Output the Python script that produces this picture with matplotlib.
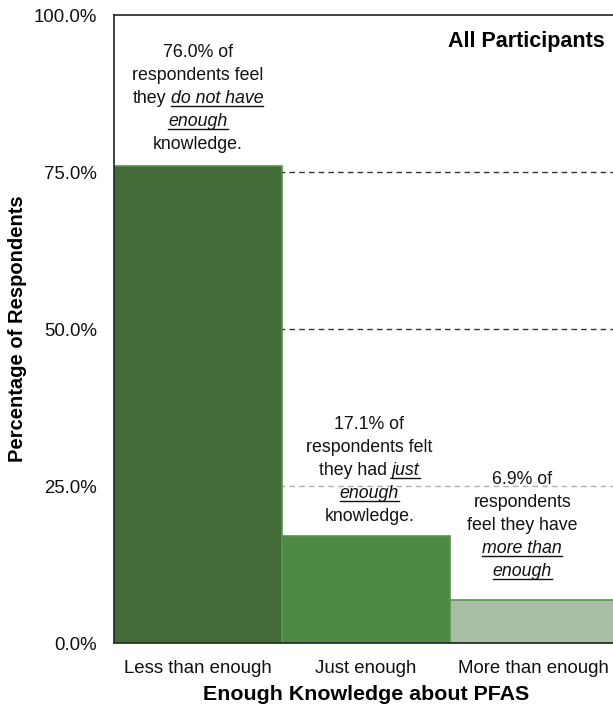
import matplotlib
matplotlib.use("Agg")
import matplotlib.pyplot as plt
from matplotlib.lines import Line2D
from matplotlib.ticker import PercentFormatter

plt.rcParams['font.family'] = ['Liberation Sans', 'DejaVu Sans']

categories = ["Less than enough", "Just enough", "More than enough"]
values = [76.0, 17.1, 6.9]
bar_colors = ["#426b37", "#4e8944", "#aabea6"]
yticks = [0, 25, 50, 75, 100]

# note text per bar: list of lines, each line a list of (text, emphasised)
notes = [
    [[("76.0% of", False)],
     [("respondents feel", False)],
     [("they", False), ("do not have", True)],
     [("enough", True)],
     [("knowledge.", False)]],
    [[("17.1% of", False)],
     [("respondents felt", False)],
     [("they had", False), ("just", True)],
     [("enough", True)],
     [("knowledge.", False)]],
    [[("6.9% of", False)],
     [("respondents", False)],
     [("feel they have", False)],
     [("more than", True)],
     [("enough", True)]],
]
note_x = [0.0, 1.02, 1.93]
note_gap = [3.5, 3.1, 4.5]   # space between bar top and last text line (data units)

fig = plt.figure(figsize=(6.13, 7.08), dpi=100)
ax = fig.add_axes([0.186, 0.0918, 0.822, 0.887])

x = range(len(categories))
ax.bar(x, values, width=1.0, color=bar_colors, edgecolor="#55944b",
       linewidth=1.2, zorder=2)

for y, c in [(25, "#b0b0b0"), (50, "#333333"), (75, "#333333")]:
    ax.axhline(y, color=c, linestyle=(0, (4, 3)), linewidth=1.0, zorder=1)

ax.set_xlim(-0.5, 2.5)
ax.set_ylim(0, 100)
ax.set_yticks(yticks)
ax.yaxis.set_major_formatter(PercentFormatter(decimals=1))
ax.set_xticks(list(x))
ax.set_xticklabels(categories)
ax.tick_params(axis="both", length=0, labelsize=13.4, colors="#111111")
ax.tick_params(axis="x", pad=12)
ax.tick_params(axis="y", pad=12)
for s in ["left", "top", "bottom"]:
    ax.spines[s].set_color("#222222")
    ax.spines[s].set_linewidth(1.2)
ax.spines["right"].set_visible(False)

ax.set_ylabel("Percentage of Respondents", fontsize=14.5, fontweight="bold",
              labelpad=5)
ax.set_xlabel("Enough Knowledge about PFAS", fontsize=15.4, fontweight="bold",
              labelpad=6)
ax.text(0.974, 0.958, "All Participants", transform=ax.transAxes, ha="right",
        va="center", fontsize=15.5, fontweight="bold")

# multi-style text lines with underlined italic parts
renderer = fig.canvas.get_renderer()
fs = 12.8
line_h = 23  # pixels


def measure(s, italic):
    t = fig.text(0, 0, s, fontsize=fs, style="italic" if italic else "normal")
    w = t.get_window_extent(renderer).width
    t.remove()
    return w


space_w = measure("a a", False) - measure("aa", False)
W = fig.dpi * fig.get_figwidth()
H = fig.dpi * fig.get_figheight()

for xi, v, gap, lines in zip(note_x, values, note_gap, notes):
    bx, by = ax.transData.transform((xi, v + gap))
    n = len(lines)
    for i, segs in enumerate(lines):
        base_y = by + (n - 1 - i) * line_h - 5
        widths = [measure(s, it) for s, it in segs]
        total = sum(widths) + space_w * (len(segs) - 1)
        cx = bx - total / 2
        for (s, it), w in zip(segs, widths):
            fig.text(cx / W, base_y / H, s, fontsize=fs,
                     style="italic" if it else "normal", ha="left",
                     va="baseline", color="#111111")
            if it:
                y0 = (base_y - 3) / H
                fig.add_artist(Line2D([cx / W, (cx + w) / W], [y0, y0],
                                      color="#111111", linewidth=1.0,
                                      transform=fig.transFigure))
            cx += w + space_w

fig.savefig("out.png", dpi=100)
